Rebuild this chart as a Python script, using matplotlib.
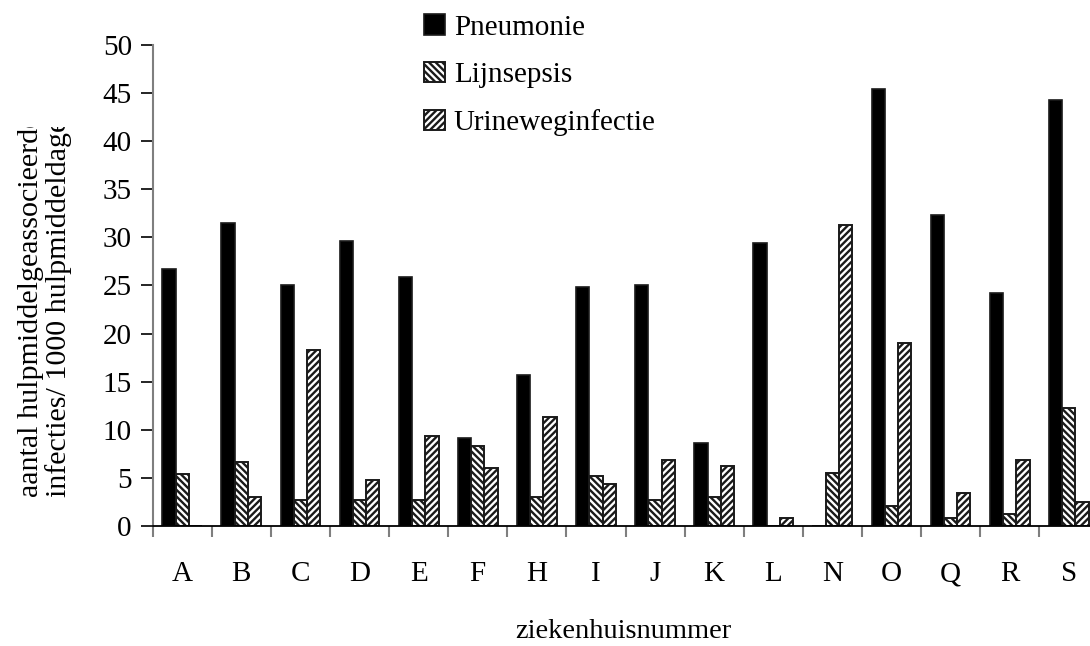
import numpy as np
import matplotlib
matplotlib.use("Agg")
import matplotlib.pyplot as plt
from matplotlib.transforms import Bbox, TransformedBbox, IdentityTransform

categories = ["A", "B", "C", "D", "E", "F", "H", "I", "J", "K", "L", "N", "O", "Q", "R", "S"]
pneumonie = [26.7, 31.5, 25.0, 29.6, 25.9, 9.2, 15.7, 24.8, 25.0, 8.6, 29.4, 0.0, 45.4, 32.3, 24.2, 44.3]
lijnsepsis = [5.4, 6.7, 2.7, 2.7, 2.7, 8.3, 3.0, 5.2, 2.7, 3.0, 0.0, 5.5, 2.1, 0.9, 1.3, 12.3]
urineweg = [0.0, 3.0, 18.3, 4.8, 9.4, 6.1, 11.3, 4.4, 6.9, 6.3, 0.9, 31.3, 19.0, 3.5, 6.9, 2.5]
series_names = ["Pneumonie", "Lijnsepsis", "Urineweginfectie"]
y_ticks = list(range(0, 51, 5))

plt.rcParams["font.family"] = ["Liberation Serif", "DejaVu Serif"]
plt.rcParams["hatch.linewidth"] = 1.7

W, H = 1090, 646
fig = plt.figure(figsize=(W / 100, H / 100), dpi=100)
ax = fig.add_axes([152.7 / W, 1 - 526.3 / H, 945.6 / W, (526.3 - 44.7) / H])

x = np.arange(len(categories))
w = 0.225
edge = "#1a1a1a"
b1 = ax.bar(x - w, pneumonie, w, color="black", edgecolor=edge, linewidth=1.2, label=series_names[0])
b2 = ax.bar(x, lijnsepsis, w, color="white", edgecolor=edge, linewidth=1.4, hatch="\\\\\\\\\\", label=series_names[1])
b3 = ax.bar(x + w, urineweg, w, color="white", edgecolor=edge, linewidth=1.4, hatch="/////", label=series_names[2])

ax.set_xlim(-0.5, len(categories) - 0.5)
ax.set_ylim(0, 50)
ax.set_yticks(y_ticks)
ax.set_xticks(x)
ax.set_xticklabels(categories)
ax.set_xticks(np.arange(-0.5, len(categories), 1), minor=True)

for s in ["top", "right"]:
    ax.spines[s].set_visible(False)
ax.spines["left"].set_color("#7f7f7f")
ax.spines["left"].set_linewidth(1.5)
ax.spines["bottom"].set_color("black")
ax.spines["bottom"].set_linewidth(1.3)

ax.tick_params(axis="y", direction="out", length=9, width=1.2, color="black", pad=6, labelsize=21)
ax.tick_params(axis="x", which="major", length=0, pad=25, labelsize=21)
ax.tick_params(axis="x", which="minor", direction="out", length=8, width=1.5, color="#7f7f7f")

fig.text(623 / W, 1 - 638 / H, "ziekenhuisnummer", ha="center", va="baseline", fontsize=20.5)

yl = fig.text(45 / W, 1 - 497 / H,
              "aantal hulpmiddelgeassocieerde\ninfecties/ 1000 hulpmiddeldagen",
              rotation=90, ha="center", va="bottom", multialignment="left",
              fontsize=21.6, linespacing=1.02)
clip = TransformedBbox(Bbox([[0, 0], [W, H - 127]]), IdentityTransform())
yl.set_clip_box(clip)
yl.set_clip_on(True)

leg = ax.legend(handles=[b1, b2, b3], loc="upper left",
                bbox_to_anchor=(424 / W, 1 - 14 / H), bbox_transform=fig.transFigure,
                frameon=False, fontsize=21, handlelength=0.72, handleheight=0.72,
                handletextpad=0.3, labelspacing=0.72, borderpad=0, borderaxespad=0)

fig.savefig("out.png", dpi=100)
